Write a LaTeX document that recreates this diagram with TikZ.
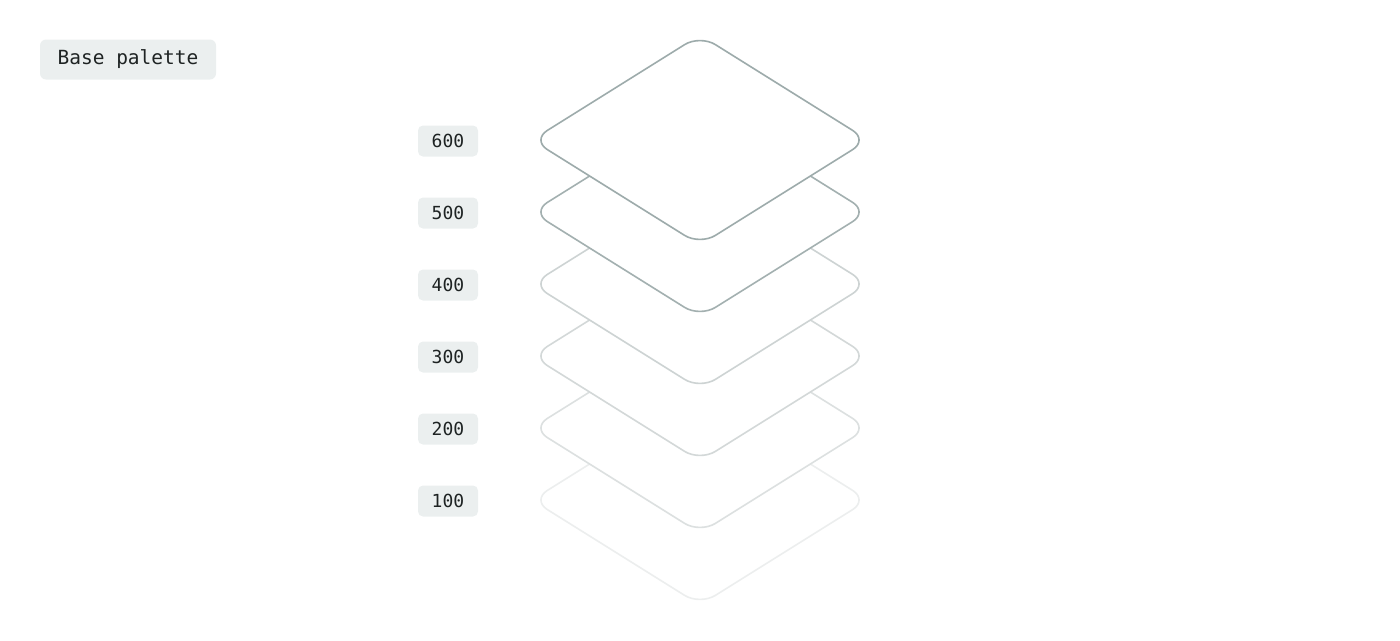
\documentclass[tikz,border=0pt]{standalone}
\usepackage{fontspec}
\setmonofont{DejaVu Sans Mono}
\usepackage{tikz}

\definecolor{edge600}{HTML}{9DABAB}
\definecolor{edge500}{HTML}{A3B0B0}
\definecolor{edge400}{HTML}{CDD3D3}
\definecolor{edge300}{HTML}{D3D8D8}
\definecolor{edge200}{HTML}{DCE0E0}
\definecolor{edge100}{HTML}{ECEEEE}
\definecolor{tagfill}{HTML}{EBEFEF}
\definecolor{tagtext}{HTML}{1E2323}

\begin{document}
\begin{tikzpicture}[x=1pt, y=-1pt,
  layer/.style={fill=white, line width=1.6pt, rounded corners=18pt, line join=round},
  tag/.style={fill=tagfill, text=tagtext, rounded corners=5pt, inner sep=0pt,
    minimum width=60pt, minimum height=31pt, font=\ttfamily\fontsize{18}{20}\selectfont},
  title/.style={tag, rounded corners=6pt, minimum width=176pt, minimum height=40pt,
    font=\ttfamily\fontsize{19.5}{22}\selectfont}]
\useasboundingbox (0,0) rectangle (1400,640);

% Title
\node[title] (base) at (128,59.5) {Base palette};

% Layers, drawn from the bottom one up
\foreach \v/\k in {100/5,200/4,300/3,400/2,500/1,600/0} {
  \pgfmathsetmacro\cy{140+72*\k}
  \draw[layer, draw=edge\v] (700,\cy-105) -- (868,\cy) -- (700,\cy+105) -- (532,\cy) -- cycle;
  \node[tag] (tag\v) at (448,\cy+1) {\v};
}
\end{tikzpicture}
\end{document}
